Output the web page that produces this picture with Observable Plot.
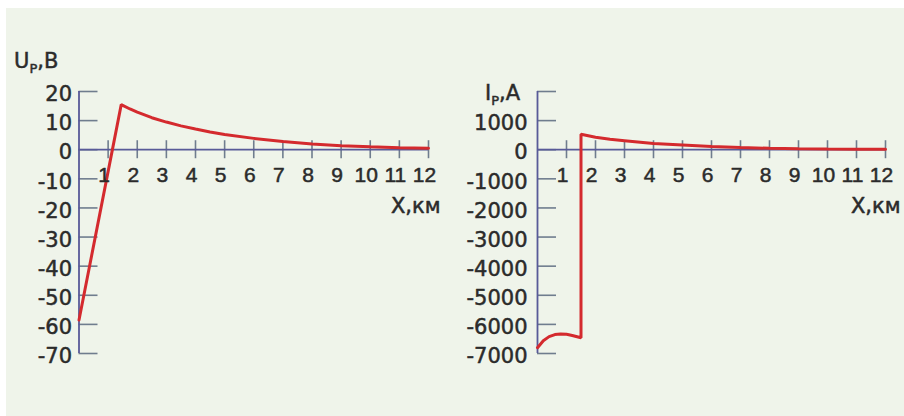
<!DOCTYPE html>
<html><head><meta charset="utf-8">
<script src="https://cdn.jsdelivr.net/npm/d3@7"></script>
<script src="https://cdn.jsdelivr.net/npm/@observablehq/plot@0.6"></script>
<style>
html,body{margin:0;padding:0;background:#fff;}
#page{position:relative;width:904px;height:416px;overflow:hidden;background:#fff;}
#bg{position:absolute;left:6px;top:8px;right:0;bottom:0;background:#eff4ea;}
#left,#right{position:absolute;top:0;}
#left{left:0}#right{left:452px}
svg{overflow:visible}
</style></head><body>
<div id="page"><div id="bg"></div><div id="left"></div><div id="right"></div></div>
<script>
// Tick values
const xTicks = [1,2,3,4,5,6,7,8,9,10,11,12];
const uTicks = [20,10,0,-10,-20,-30,-40,-50,-60,-70];
const iTicks = [2000,1000,0,-1000,-2000,-3000,-4000,-5000,-6000,-7000];
// Rail potential U_p, V (distance km)
const uX = [0, 1.45, 1.75, 2, 2.5, 3, 3.5, 4, 4.5, 5, 6, 7, 8, 9, 10, 11, 12];
const uV = [-58.5, 15.5, 14.0, 12.9, 11.0, 9.5, 8.2, 7.1, 6.1, 5.2, 3.9, 2.8, 2.0, 1.4, 1.0, 0.7, 0.5];
// Rail current I_p, A (distance km)
const iX = [0, 0.2, 0.4, 0.6, 0.8, 1.0, 1.2, 1.5, 1.5, 2, 2.5, 3, 4, 5, 6, 7, 8, 9, 10, 11, 12];
const iV = [-6800, -6560, -6420, -6350, -6330, -6340, -6380, -6460, 530, 430, 360, 310, 210, 160, 110, 75, 50, 35, 25, 18, 12];

const AXIS = "#585a98", TICK = "#6f7d8e", RED = "#d42a2e", TXT = "#2b2b2b";
const FONT = "DejaVu Sans", XFONT = "Liberation Sans";

function chart({xs, vs, yTicks, yDomain, hideTop, yLabelDx, titleDx, marginLeft, marginRight}) {
  const data = xs.map((x, i) => ({x, v: vs[i]}));
  const yLab = hideTop ? yTicks.slice(1) : yTicks;
  const txt = {fill: TXT, stroke: TXT, strokeWidth: 0.5, fontSize: 21};
  return Plot.plot({
    width: 452, height: 416,
    marginLeft, marginRight, marginTop: 91, marginBottom: 63,
    x: {domain: [0, 12], axis: null},
    y: {domain: yDomain, axis: null},
    style: {background: "transparent", fontFamily: FONT, fontSize: "21px", overflow: "visible"},
    marks: [
      Plot.ruleY(yTicks, {y: d => d, x1: 0, x2: 0, insetRight: -19, stroke: TICK, strokeWidth: 1.6}),
      Plot.ruleX(xTicks, {x: d => d, y1: 0, y2: 0, insetTop: -9, insetBottom: -9, stroke: TICK, strokeWidth: 1.6}),
      Plot.ruleY([0], {x1: 0, x2: 12, stroke: AXIS, strokeWidth: 1.8}),
      Plot.ruleX([0], {y1: yDomain[0], y2: yDomain[1], stroke: AXIS, strokeWidth: 1.8}),
      Plot.line(data, {x: "x", y: "v", stroke: RED, strokeWidth: 3, strokeLinejoin: "miter"}),
      Plot.text(yLab, {x: 0, y: d => d, text: d => String(d), textAnchor: "end", dx: yLabelDx, dy: 3, ...txt}),
      Plot.text(xTicks, {x: d => d, y: 0, text: d => String(d), dy: 26, dx: -4, fontFamily: XFONT, ...txt}),
      Plot.text(["X,км"], {x: 12, y: 0, text: d => d, textAnchor: "end", dx: titleDx, dy: 57, ...txt})
    ]
  });
}

const left = chart({xs: uX, vs: uV, yTicks: uTicks, yDomain: [-70, 20], hideTop: false,
  yLabelDx: -7, titleDx: 12, marginLeft: 78.5, marginRight: 24});
const right = chart({xs: iX, vs: iV, yTicks: iTicks, yDomain: [-7000, 2000], hideTop: true,
  yLabelDx: -10, titleDx: 15, marginLeft: 85, marginRight: 19});
document.getElementById("left").appendChild(left);
document.getElementById("right").appendChild(right);

function title(svg, x, y, main, sub, rest) {
  const t = d3.select(svg).append("text").attr("x", x).attr("y", y).attr("text-anchor", "start")
    .attr("fill", TXT).attr("stroke", TXT).attr("stroke-width", 0.5)
    .attr("font-family", FONT).attr("font-size", 21);
  t.append("tspan").text(main);
  t.append("tspan").attr("dy", 5).attr("font-size", 13).text(sub);
  t.append("tspan").attr("dy", -5).text(rest);
}
title(left, 14, 68, "U", "P", ",B");
title(right, 485 - 452, 100, "I", "P", ",A");
</script>
</body></html>
